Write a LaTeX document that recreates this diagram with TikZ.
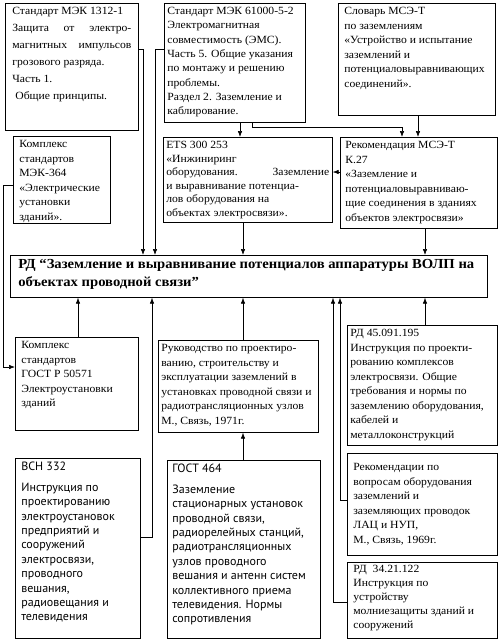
\documentclass[tikz,border=0pt]{standalone}
\usepackage{fontspec}
\setmainfont{Liberation Serif}[FakeStretch=1.06]
\newfontfamily\vsnfont{PT Sans}
\usetikzlibrary{arrows.meta}
\newcommand{\boxtext}[3]{\parbox[c][#2][t]{#1}{\raggedright #3}}

\begin{document}
\begin{tikzpicture}[x=1pt, y=-1pt, line width=0.6pt,
  docbox/.style={draw, rectangle, line width=0.7pt, inner xsep=3pt, inner ysep=4pt,
                 anchor=north west, font=\fontsize{11}{14.5}\selectfont},
  >={Latex[length=6pt, width=4.5pt]}]
  \useasboundingbox (0,0) rectangle (500,641);

  % upper sources
  \node (iec1312) [docbox, inner xsep=7pt, font=\fontsize{11}{17}\selectfont] at (5,3)
        {\boxtext{119pt}{119pt}{Стандарт МЭК 1312-1\\
         Защита\hfill от\hfill электро-\\
         магнитных\hfill импульсов\\
         грозового разряда.\\
         Часть 1.\\
         \hspace*{3pt}Общие принципы.}};
  \node (iec61000) [docbox, font=\fontsize{11}{14.3}\selectfont] at (164,3)
        {\boxtext{135pt}{111pt}{Стандарт МЭК 61000-5-2\\
         Электромагнитная\\
         совместимость (ЭМС).\\
         Часть 5. Общие указания\\
         по монтажу и решению\\
         проблемы.\\
         Раздел 2. Заземление и\\
         каблирование.}};
  \node (itudict) [docbox, inner xsep=6pt] at (338,3)
        {\boxtext{145pt}{104pt}{Словарь МСЭ-Т\\
         по заземлениям\\
         «Устройство и испытание\\
         заземлений и\\
         потенциаловыравнивающих\\
         соединений».}};
  \node (iec364) [docbox, inner xsep=6pt] at (13,136)
        {\boxtext{85pt}{79pt}{Комплекс\\
         стандартов\\
         МЭК-364\\
         «Электрические\\
         установки зданий».}};
  \node (ets) [docbox, font=\fontsize{11}{13.5}\selectfont] at (163,137)
        {\boxtext{163pt}{77pt}{ETS 300 253\\
         «Инжиниринг\\
         оборудования.\hfill Заземление\\
         и выравнивание потенциа-\\
         лов оборудования на\\
         объектах электросвязи».}};
  \node (k27) [docbox, inner xsep=5pt] at (340,137)
        {\boxtext{147pt}{83pt}{Рекомендация МСЭ-Т\\
         К.27\\
         «Заземление и\\
         потенциаловыравниваю-\\
         щие соединения в зданиях\\
         объектов электросвязи»}};

  % main document
  \node (rd) [docbox, inner xsep=8pt, font=\fontsize{13.8}{18}\selectfont\bfseries] at (10,255)
        {\boxtext{461pt}{34pt}{РД “Заземление и выравнивание потенциалов аппаратуры ВОЛП на\\
         объектах проводной связи”}};

  % lower sources
  \node (gostr) [docbox, inner xsep=6pt] at (15,337)
        {\boxtext{111pt}{85pt}{Комплекс\\
         стандартов\\
         ГОСТ Р 50571\\
         Электроустановки\\
         зданий}};
  \node (guide71) [docbox] at (158,340)
        {\boxtext{154pt}{84pt}{Руководство по проектиро-\\
         ванию, строительству и\\
         эксплуатации заземлений в\\
         установках проводной связи и\\
         радиотрансляционных узлов\\
         М., Связь, 1971г.}};
  \node (rd45) [docbox] at (347,325)
        {\boxtext{144pt}{112pt}{РД 45.091.195\\
         Инструкция по проекти-\\
         рованию комплексов\\
         электросвязи. Общие\\
         требования и нормы по\\
         заземлению оборудования,\\
         кабелей и\\
         металлоконструкций}};
  \node (vsn332) [docbox, inner xsep=6pt, font=\vsnfont\fontsize{12}{14.4}\selectfont] at (15,458)
        {\boxtext{113pt}{172pt}{ВСН 332\\[6pt]
         Инструкция по\\
         проектированию\\
         электроустановок\\
         предприятий и\\
         сооружений\\
         электросвязи,\\
         проводного\\
         вешания,\\
         радиовещания и\\
         телевидения}};
  \node (gost464) [docbox, inner xsep=5pt, font=\vsnfont\fontsize{12}{14.4}\selectfont] at (167,460)
        {\boxtext{143pt}{170pt}{ГОСТ 464\\[6pt]
         Заземление\\
         стационарных установок\\
         проводной связи,\\
         радиорелейных станций,\\
         радиотрансляционных\\
         узлов проводного\\
         вешания и антенн систем\\
         коллективного приема\\
         телевидения. Нормы\\
         сопротивления}};
  \node (rec69) [docbox, inner xsep=6pt] at (347,453)
        {\boxtext{138pt}{94pt}{\vspace*{6pt}Рекомендации по\\
         вопросам оборудования\\
         заземлений и\\
         заземляющих проводок\\
         ЛАЦ и НУП,\\
         М., Связь, 1969г.}};
  \node (rd34) [docbox, inner xsep=6pt, inner ysep=3pt, font=\fontsize{11}{14}\selectfont] at (347,562)
        {\boxtext{138pt}{70pt}{РД\ \ 34.21.122\\
         Инструкция по\\
         устройству\\
         молниезащиты зданий и\\
         сооружений}};

  % links into the main document
  \draw[->] ([yshift=-46pt]iec1312.north east) -| ([xshift=133pt]rd.north west);
  \draw[->] ([yshift=-46pt]iec61000.north west) -| ([xshift=145pt]rd.north west);
  \draw[->] ([xshift=76pt]iec61000.south west) -- ([xshift=77pt]ets.north west);
  \draw[->] ([xshift=88pt]iec61000.south west) -- ++(0,5) -| ([xshift=62pt]k27.north west);
  \draw[->] ([xshift=80pt]itudict.south west) -- ([xshift=78pt]k27.north west);
  \draw[->] ([yshift=-35pt]k27.north west) -- ([yshift=-35pt]ets.north east);
  \draw[->] ([xshift=80pt]ets.south west) -- ([xshift=233pt]rd.north west);
  \draw[->] ([xshift=85pt]k27.south west) -- ([xshift=415pt]rd.north west);
  \draw[->] ([yshift=-49pt]iec364.north west) -- ++(-10,0) |- ([yshift=-30pt]gostr.north west);
  \draw[->] ([xshift=63pt]gostr.north west) -- ([xshift=68pt]rd.south west);
  \draw[->] ([xshift=85pt]guide71.north west) -- ([xshift=233pt]rd.south west);
  \draw[->] ([xshift=76pt]gost464.north west) -- ([xshift=85pt]guide71.south west);
  \draw[->] ([yshift=-79pt]vsn332.north east) -| ([xshift=142pt]rd.south west);
  \draw[->] ([yshift=-47pt]rec69.north west) -| ([xshift=330pt]rd.south west);
  \draw[->] ([yshift=-40pt]rd34.north west) -| ([xshift=323pt]rd.south west);
  \draw[->] ([xshift=78pt]rd45.north west) -- ([xshift=415pt]rd.south west);
\end{tikzpicture}
\end{document}
